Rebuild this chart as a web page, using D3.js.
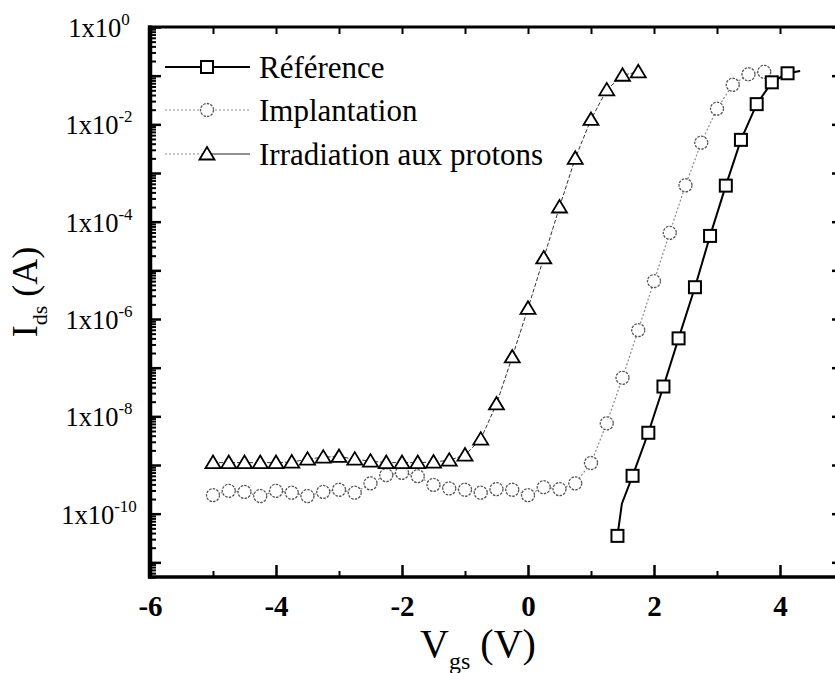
<!DOCTYPE html>
<html>
<head>
<meta charset="utf-8">
<script src="https://cdn.jsdelivr.net/npm/d3@7"></script>
<style>
  html, body { margin: 0; padding: 0; background: #fff; }
  svg { display: block; }
</style>
</head>
<body>
<script>
// ---------------- data ----------------
const seriesNames = ["Référence", "Implantation", "Irradiation aux protons"];

// Référence (squares) – marker points
const refV = [1.42, 1.66, 1.91, 2.15, 2.39, 2.65, 2.89, 3.14, 3.38, 3.63, 3.87, 4.12];
const refI = [3.5e-11, 6.0e-10, 4.6e-9, 4.1e-8, 4.0e-7, 4.5e-6, 5.1e-5, 5.5e-4, 4.8e-3, 2.6e-2, 7.3e-2, 0.112];
// Référence – curve points without a marker
const refExtraV = [1.49, 4.32];
const refExtraI = [1.6e-10, 0.125];

// Implantation (circles)
const impV = [-5, -4.75, -4.5, -4.25, -4, -3.75, -3.5, -3.25, -3, -2.75, -2.5, -2.25, -2, -1.75, -1.5, -1.25,
              -1, -0.75, -0.5, -0.25, 0, 0.25, 0.5, 0.75, 1, 1.25, 1.5, 1.75, 2, 2.25, 2.5, 2.75, 3, 3.25, 3.5, 3.75];
const impI = [2.4e-10, 2.95e-10, 2.8e-10, 2.3e-10, 2.95e-10, 2.7e-10, 2.3e-10, 2.8e-10, 3.1e-10, 2.7e-10,
              4.2e-10, 6.2e-10, 6.9e-10, 5.9e-10, 3.9e-10, 3.3e-10, 3.1e-10, 2.7e-10, 3.2e-10, 3.1e-10,
              2.4e-10, 3.5e-10, 3.2e-10, 4.2e-10, 1.1e-9, 7.2e-9, 6.2e-8, 5.9e-7, 6.0e-6, 5.9e-5,
              5.6e-4, 4.2e-3, 2.1e-2, 6.5e-2, 0.107, 0.12];

// Irradiation aux protons (triangles)
const irrV = [-5, -4.75, -4.5, -4.25, -4, -3.75, -3.5, -3.25, -3, -2.75, -2.5, -2.25, -2, -1.75, -1.5, -1.25,
              -1, -0.75, -0.5, -0.25, 0, 0.25, 0.5, 0.75, 1, 1.25, 1.5, 1.75];
const irrI = [1.12e-9, 1.12e-9, 1.12e-9, 1.12e-9, 1.12e-9, 1.15e-9, 1.32e-9, 1.45e-9, 1.5e-9, 1.32e-9,
              1.2e-9, 1.12e-9, 1.12e-9, 1.12e-9, 1.15e-9, 1.26e-9, 1.6e-9, 3.4e-9, 1.8e-8, 1.66e-7,
              1.66e-6, 1.8e-5, 2.0e-4, 2.0e-3, 1.26e-2, 5.1e-2, 0.102, 0.12];

// axis ticks
const xMajorTicks = [-6, -4, -2, 0, 2, 4];
const xMinorTicks = [-5, -3, -1, 1, 3, 5];
const yLabelExps = [0, -2, -4, -6, -8, -10];
const yDecadeTicks = [1, 1e-1, 1e-2, 1e-3, 1e-4, 1e-5, 1e-6, 1e-7, 1e-8, 1e-9, 1e-10, 1e-11];
const minorMult = [2, 3, 4, 5, 6, 7, 8, 9];

// ---------------- layout ----------------
const W = 835, H = 673;
const FONT = "'Liberation Serif','Times New Roman',Times,serif";

const x = d3.scaleLinear().domain([-6, 5]).range([150, 843]);
const y = d3.scaleLog().domain([5e-12, 1]).range([577, 27]);

const svg = d3.select("body").append("svg")
  .attr("width", W).attr("height", H)
  .style("font-family", FONT);
svg.append("rect").attr("width", W).attr("height", H).attr("fill", "#fff");

const [x0, x1] = x.range();
const [yb, yt] = y.range();

// minor y ticks (log 2..9)
const yMinorTicks = [];
yDecadeTicks.forEach(d => minorMult.forEach(m => { const v = d * m / 10; if (v >= 5e-12 && v < 1) yMinorTicks.push(v); }));
const yMinorOnly = yMinorTicks.filter(v => !yDecadeTicks.some(d => Math.abs(v - d) / d < 1e-6));

function styleAxis(g, w) {
  g.select(".domain").remove();
  g.selectAll(".tick line").attr("stroke", "#000").attr("stroke-width", w);
}

// left axis
svg.append("g").attr("transform", `translate(${x0},0)`)
  .call(d3.axisLeft(y).tickValues(yDecadeTicks).tickSize(-11).tickFormat(""))
  .call(g => styleAxis(g, 2.5));
svg.append("g").attr("transform", `translate(${x0},0)`)
  .call(d3.axisLeft(y).tickValues(yMinorOnly).tickSize(-6).tickFormat(""))
  .call(g => styleAxis(g, 2));
// right axis (spine is just off the picture)
svg.append("g").attr("transform", `translate(${x1},0)`)
  .call(d3.axisRight(y).tickValues(yDecadeTicks).tickSize(-11).tickFormat(""))
  .call(g => styleAxis(g, 2.5));

// bottom axis
const gx = svg.append("g").attr("transform", `translate(0,${yb})`)
  .call(d3.axisBottom(x).tickValues(xMajorTicks).tickSize(-12).tickPadding(18)
    .tickFormat(d => d3.format("d")(d).replace("−", "-")))
  .call(g => styleAxis(g, 2.5));
gx.selectAll(".tick text")
  .attr("font-family", FONT).attr("font-size", 29).attr("font-weight", "bold").attr("fill", "#000");
svg.append("g").attr("transform", `translate(0,${yb})`)
  .call(d3.axisBottom(x).tickValues(xMinorTicks).tickSize(-6).tickFormat(""))
  .call(g => styleAxis(g, 2));

// top axis
svg.append("g").attr("transform", `translate(0,${yt})`)
  .call(d3.axisTop(x).tickValues(xMajorTicks.concat(xMinorTicks)).tickSize(-7).tickFormat(""))
  .call(g => styleAxis(g, 2));

// spines
svg.append("line").attr("x1", x0).attr("x2", x0).attr("y1", yt - 1.5).attr("y2", yb + 1.5)
  .attr("stroke", "#000").attr("stroke-width", 4.5);
svg.append("line").attr("x1", x0 - 2).attr("x2", x1).attr("y1", yb).attr("y2", yb)
  .attr("stroke", "#000").attr("stroke-width", 3.5);
svg.append("line").attr("x1", x0 - 2).attr("x2", x1).attr("y1", yt).attr("y2", yt)
  .attr("stroke", "#000").attr("stroke-width", 3);

// y tick labels 1x10^n
yLabelExps.forEach(e => {
  const t = svg.append("text")
    .attr("x", 99).attr("y", y(Math.pow(10, e)) + 10)
    .attr("text-anchor", "middle").attr("font-size", 26.5).attr("fill", "#000");
  t.append("tspan").text("1x10");
  t.append("tspan").attr("dy", -12).attr("font-size", 17).text(String(e).replace("−", "-"));
});

// axis titles
const xt = svg.append("text").attr("x", 478).attr("y", 657)
  .attr("text-anchor", "middle").attr("font-size", 40).attr("fill", "#000");
xt.append("tspan").text("V");
xt.append("tspan").attr("dy", 12).attr("font-size", 24).text("gs");
xt.append("tspan").attr("dy", -12).text(" (V)");

const ytl = svg.append("text").attr("transform", `translate(37,292) rotate(-90)`)
  .attr("text-anchor", "middle").attr("font-size", 36).attr("fill", "#000");
ytl.append("tspan").text("I");
ytl.append("tspan").attr("dy", 10).attr("font-size", 22).text("ds");
ytl.append("tspan").attr("dy", -10).text(" (A)");

// ---------------- series ----------------
const plot = svg.append("g");
const line = d3.line().x(d => x(d[0])).y(d => y(d[1]));

const refPts = refV.map((v, i) => [v, refI[i]]);
const refLinePts = refPts.concat(refExtraV.map((v, i) => [v, refExtraI[i]])).sort((a, b) => a[0] - b[0]);
const impPts = impV.map((v, i) => [v, impI[i]]);
const irrPts = irrV.map((v, i) => [v, irrI[i]]);

const styles = {
  ref: { stroke: "#000", width: 2, dash: null },
  imp: { stroke: "#8a8a8a", width: 1.2, dash: "2,2" },
  irr: { stroke: "#333", width: 1, dash: "4,2" }
};

function drawLine(pts, st) {
  plot.append("path").datum(pts).attr("d", line).attr("fill", "none")
    .attr("stroke", st.stroke).attr("stroke-width", st.width)
    .attr("stroke-dasharray", st.dash);
}
function sq(g, cx, cy) {
  g.append("rect").attr("x", cx - 6).attr("y", cy - 6).attr("width", 12).attr("height", 12)
    .attr("fill", "#fff").attr("stroke", "#000").attr("stroke-width", 2);
}
function circ(g, cx, cy) {
  g.append("circle").attr("cx", cx).attr("cy", cy).attr("r", 6.5)
    .attr("fill", "#fff").attr("stroke", "#555").attr("stroke-width", 1.3)
    .attr("stroke-dasharray", "2.5,1.2");
}
function tri(g, cx, cy) {
  const p = d3.path();
  p.moveTo(cx - 7.5, cy + 5.5); p.lineTo(cx + 7.5, cy + 5.5); p.lineTo(cx, cy - 7); p.closePath();
  g.append("path").attr("d", p.toString())
    .attr("fill", "#fff").attr("stroke", "#000").attr("stroke-width", 1.8).attr("stroke-linejoin", "miter");
}

drawLine(impPts, styles.imp);
drawLine(irrPts, styles.irr);
drawLine(refLinePts, styles.ref);
impPts.forEach(d => circ(plot, x(d[0]), y(d[1])));
irrPts.forEach(d => tri(plot, x(d[0]), y(d[1])));
refPts.forEach(d => sq(plot, x(d[0]), y(d[1])));

// ---------------- legend ----------------
const leg = svg.append("g");
const legRows = [
  { name: seriesNames[0], cy: 67, left: styles.ref, right: styles.ref, mk: sq },
  { name: seriesNames[1], cy: 110, left: styles.imp, right: styles.imp, mk: circ },
  { name: seriesNames[2], cy: 154, left: styles.imp, right: { stroke: "#222", width: 1.2, dash: null }, mk: tri }
];
legRows.forEach(r => {
  leg.append("line").attr("x1", 165).attr("x2", 207).attr("y1", r.cy).attr("y2", r.cy)
    .attr("stroke", r.left.stroke).attr("stroke-width", r.left.width).attr("stroke-dasharray", r.left.dash);
  leg.append("line").attr("x1", 207).attr("x2", 250).attr("y1", r.cy).attr("y2", r.cy)
    .attr("stroke", r.right.stroke).attr("stroke-width", r.right.width).attr("stroke-dasharray", r.right.dash);
  r.mk(leg, 207, r.cy);
  leg.append("text").attr("x", 259).attr("y", r.cy + 11).attr("font-size", 31).attr("fill", "#000").text(r.name);
});
</script>
</body>
</html>
